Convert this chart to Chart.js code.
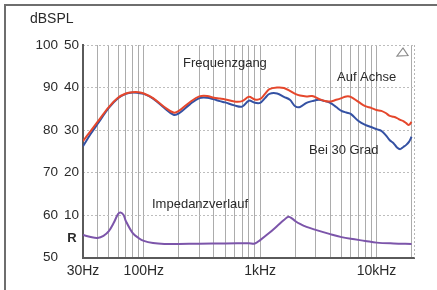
<!DOCTYPE html>
<html>
<head>
<meta charset="utf-8">
<script src="https://cdn.jsdelivr.net/npm/chart.js@4.4.1/dist/chart.umd.min.js"></script>
<style>
html,body{margin:0;padding:0;background:#fff;}
canvas{display:block;}
</style>
</head>
<body>
<canvas id="c" width="437" height="290"></canvas>
<script>
// ---- data ----
const freqSPL = [30,35,40,50,60,70,80,90,100,120,150,180,200,250,300,350,400,450,500,600,700,800,900,1000,1100,1200,1400,1600,1800,2000,2200,2500,2800,3200,3600,4000,4500,5000,5500,6000,7000,8000,9000,10000,11000,12000,13000,14000,15000,16000,17000,18000,19000,20000];
const aufAchse = [77.4,79.8,81.9,85.4,87.6,88.6,88.9,88.9,88.6,87.5,85.4,84.1,84.5,86.6,87.9,88.0,87.6,87.4,87.2,86.7,86.8,87.8,87.2,87.3,88.5,89.6,90.0,89.9,89.2,88.5,88.1,87.9,88.0,87.3,86.8,86.7,87.1,87.5,87.9,87.8,86.6,85.6,85.2,84.7,84.5,84.0,83.3,83.1,82.8,82.4,82.1,81.6,81.2,81.9];
const bei30Grad = [76.2,79.1,81.4,85.2,87.5,88.5,88.8,88.7,88.5,87.4,85.2,83.6,83.9,86.1,87.5,87.6,87.2,86.8,86.5,85.8,85.5,86.9,86.4,86.4,87.5,88.5,88.6,87.8,87.1,85.6,85.4,86.4,86.8,87.1,86.8,86.4,85.4,84.5,84.1,83.8,82.1,81.2,80.7,80.2,79.8,78.8,77.6,76.9,75.9,75.5,76.0,76.5,77.2,78.4];
const freqImp = [30,35,40,45,50,55,60,63,67,70,80,90,100,120,150,200,300,500,800,900,1000,1200,1400,1600,1750,1900,2000,2200,2500,3000,4000,5000,6000,8000,10000,14000,20000];
const impedanz = [5.3,4.8,4.6,5.1,6.2,8.1,10.2,10.6,10.0,8.6,5.8,4.6,3.9,3.4,3.2,3.2,3.25,3.3,3.35,3.3,4.1,5.8,7.4,8.8,9.6,9.1,8.6,7.9,7.2,6.5,5.5,4.8,4.4,3.9,3.5,3.3,3.2];
const xTickValues = [30,40,50,60,70,80,90,100,200,300,400,500,600,700,800,900,1000,2000,3000,4000,5000,6000,7000,8000,9000,10000,20000];
const xTickLabels = {30:'30Hz',100:'100Hz',1000:'1kHz',10000:'10kHz'};
const dbTicks = [50,60,70,80,90,100];
const ohmTicks = [10,20,30,40,50];

const FONT = "'Liberation Sans', Arial, sans-serif";
const TXT = '#2a2a2a';

const pts = (xs, ys) => xs.map((x, i) => ({x: x, y: ys[i]}));

const decor = {
  id: 'decor',
  beforeDraw(chart) {
    const c = chart.ctx;
    c.save();
    c.fillStyle = '#fff';
    c.fillRect(0, 0, chart.width, chart.height);
    c.restore();
  },
  afterDraw(chart) {
    const c = chart.ctx, a = chart.chartArea;
    c.save();
    // outer frame (top + left)
    c.strokeStyle = '#6e6e6e';
    c.lineWidth = 2;
    c.beginPath();
    c.moveTo(5, 290); c.lineTo(5, 5); c.lineTo(437, 5);
    c.stroke();
    // right dotted plot border
    c.strokeStyle = '#b5b5b5';
    c.lineWidth = 1;
    c.setLineDash([2, 2]);
    c.beginPath();
    c.moveTo(Math.round(a.right) + 0.5, a.top); c.lineTo(Math.round(a.right) + 0.5, a.bottom);
    c.stroke();
    c.setLineDash([]);
    // small triangle symbol
    c.strokeStyle = '#8a8a8a';
    c.lineWidth = 1.2;
    c.beginPath();
    c.moveTo(397, 56); c.lineTo(403, 48); c.lineTo(408, 55.5); c.closePath();
    c.stroke();
    // texts
    c.fillStyle = TXT;
    c.textBaseline = 'middle';
    c.textAlign = 'left';
    c.font = '14px ' + FONT;
    c.fillText('dBSPL', 30, 19);
    c.font = '13px ' + FONT;
    c.fillText('Frequenzgang', 183, 63);
    c.fillText('Auf Achse', 337, 77);
    c.fillText('Bei 30 Grad', 309, 150);
    c.fillText('Impedanzverlauf', 152, 204);
    c.font = 'bold 13px ' + FONT;
    c.textAlign = 'center';
    const yR = chart.scales.y2.getPixelForValue(5);
    c.fillText('R', 72, yR + 2);
    c.restore();
  }
};

new Chart(document.getElementById('c'), {
  type: 'line',
  data: {
    datasets: [
      {label: 'Auf Achse', data: pts(freqSPL, aufAchse), borderColor: '#e5472c', borderWidth: 2, yAxisID: 'y'},
      {label: 'Bei 30 Grad', data: pts(freqSPL, bei30Grad), borderColor: '#3451a3', borderWidth: 2, yAxisID: 'y'},
      {label: 'Impedanzverlauf', data: pts(freqImp, impedanz), borderColor: '#7c55aa', borderWidth: 2, yAxisID: 'y2'}
    ]
  },
  options: {
    responsive: false,
    devicePixelRatio: 1,
    animation: false,
    parsing: true,
    elements: {point: {radius: 0}, line: {tension: 0.35}},
    layout: {padding: {top: 45, right: 23, left: 0, bottom: 0}},
    plugins: {legend: {display: false}, tooltip: {enabled: false}, title: {display: false}},
    scales: {
      x: {
        type: 'logarithmic',
        min: 30, max: 21000,
        afterBuildTicks: (s) => { s.ticks = xTickValues.map(v => ({value: v})); },
        afterFit: (s) => { s.height = 32.5; },
        ticks: {
          autoSkip: false, maxRotation: 0, minRotation: 0, padding: 5,
          color: TXT, font: {family: FONT, size: 14},
          callback: (v) => xTickLabels[v] || ''
        },
        grid: {color: '#acacac', lineWidth: 1, drawTicks: false},
        border: {display: true, color: '#5a5a5a', width: 2}
      },
      y: {
        type: 'linear', position: 'left', weight: 1,
        min: 50, max: 100,
        afterBuildTicks: (s) => { s.ticks = dbTicks.map(v => ({value: v})); },
        afterFit: (s) => { s.width = 62; },
        ticks: {padding: 4, color: TXT, font: {family: FONT, size: 13.5}, callback: (v) => String(v)},
        grid: {color: '#bdbdbd', lineWidth: 1, drawTicks: false},
        border: {display: false, dash: [2, 2]}
      },
      y2: {
        type: 'linear', position: 'left', weight: 0,
        min: 0, max: 50,
        afterBuildTicks: (s) => { s.ticks = ohmTicks.map(v => ({value: v})); },
        afterFit: (s) => { s.width = 21; },
        ticks: {padding: 4, color: TXT, font: {family: FONT, size: 13.5}, callback: (v) => String(v)},
        grid: {display: false, drawTicks: false},
        border: {display: true, color: '#5a5a5a', width: 2}
      }
    }
  },
  plugins: [decor]
});
</script>
</body>
</html>
